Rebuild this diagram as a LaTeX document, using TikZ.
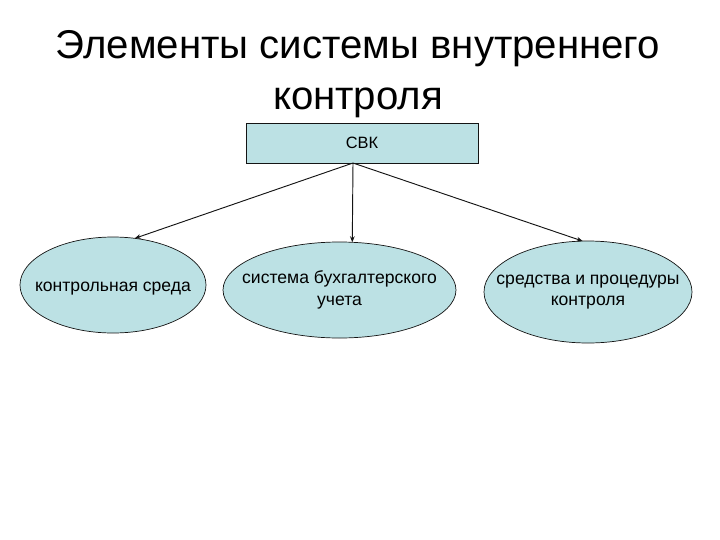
\documentclass[tikz,border=0pt]{standalone}
\usepackage{fontspec}
\setmainfont{Liberation Sans}
\usetikzlibrary{arrows.meta,positioning,shapes.geometric}
\definecolor{paleblue}{RGB}{188,225,228}
\definecolor{ink}{RGB}{20,20,20}
\tikzset{
  >={Stealth[length=1.8mm,width=1.4mm]},
  topbox/.style={draw=ink,fill=paleblue,line width=0.8pt,minimum width=69.6mm,
    minimum height=12mm,inner sep=0pt,outer sep=0pt,font=\fontsize{14}{17}\selectfont},
  bubble/.style={ellipse,draw=ink,fill=paleblue,line width=0.6pt,inner sep=0pt,outer sep=0pt},
  bubble text/.style={align=center,inner sep=0pt,font=\fontsize{15}{18.5}\selectfont},
  link/.style={->,line width=0.8pt,draw=ink},
}

\begin{document}
\begin{tikzpicture}[x=0.3mm,y=-0.3mm]
    \useasboundingbox (0,0) rectangle (720,540);
    \node[font=\fontsize{34.3}{44}\selectfont,align=center,anchor=north,inner sep=0pt] (title) at (358,30)
      {Элементы системы внутреннего\\контроля};
    \node[topbox] (svk) at (362,143) {СВК};
    % the three elements
    \node[bubble,minimum width=55.8mm,minimum height=28.8mm,
      label={[bubble text,yshift=-1.2mm]center:контрольная среда}] (env) at (113,285) {};
    \node[bubble,minimum width=69.9mm,minimum height=28.8mm,
      label={[bubble text]center:{система бухгалтерского\\учета}}] (acc) at (339.5,290) {};
    \node[bubble,minimum width=62.4mm,minimum height=30.6mm,
      label={[bubble text]center:{средства и процедуры\\контроля}}] (proc) at (588,292) {};
    \coordinate (hub) at ([xshift=-2.7mm]svk.south);
    \draw[link] (hub) -- (env.65);
    \draw[link] (hub) -- (acc.75);
    \draw[link] (hub) -- (proc.96);
\end{tikzpicture}
\end{document}
